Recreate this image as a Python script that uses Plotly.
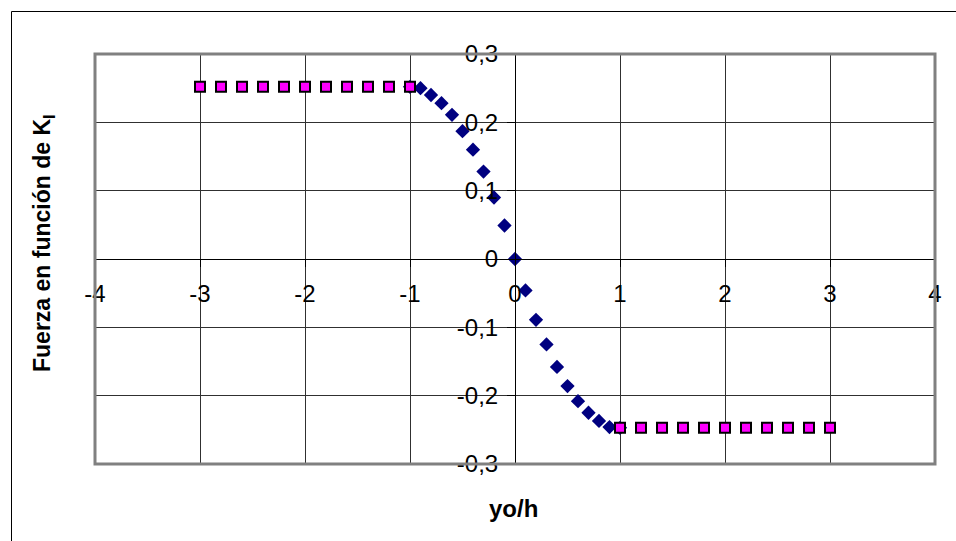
import plotly.graph_objects as go

# ---- data ----
diamond_x = [-1.0, -0.9, -0.8, -0.7, -0.6, -0.5, -0.4, -0.3, -0.2, -0.1, 0.0,
             0.1, 0.2, 0.3, 0.4, 0.5, 0.6, 0.7, 0.8, 0.9, 1.0]
diamond_y = [0.252, 0.250, 0.240, 0.228, 0.211, 0.187, 0.160, 0.128, 0.090, 0.049, 0.0,
             -0.046, -0.089, -0.125, -0.158, -0.186, -0.208, -0.225, -0.237, -0.246, -0.247]

square_x = [-3.0, -2.8, -2.6, -2.4, -2.2, -2.0, -1.8, -1.6, -1.4, -1.2, -1.0,
            1.0, 1.2, 1.4, 1.6, 1.8, 2.0, 2.2, 2.4, 2.6, 2.8, 3.0]
square_y = [0.252] * 11 + [-0.247] * 11

x_ticks = [-4, -3, -2, -1, 0, 1, 2, 3, 4]
x_ticktext = ["-4", "-3", "-2", "-1", "0", "1", "2", "3", "4"]
y_ticks = [-0.3, -0.2, -0.1, 0.0, 0.1, 0.2, 0.3]
y_ticktext = ["-0,3", "-0,2", "-0,1", "0", "0,1", "0,2", "0,3"]

x_title = "yo/h"
y_title = "Fuerza en función de K<sub>I</sub>"

FONT = "Liberation Sans, Arial, sans-serif"

fig = go.Figure()
fig.add_trace(go.Scatter(
    x=diamond_x, y=diamond_y, mode="markers",
    marker=dict(symbol="diamond", size=11, color="#000080", line=dict(width=0)),
    showlegend=False, hoverinfo="skip"))
fig.add_trace(go.Scatter(
    x=square_x, y=square_y, mode="markers",
    marker=dict(symbol="square", size=10, color="#FF00FF", line=dict(width=2, color="#000000")),
    showlegend=False, hoverinfo="skip"))

W, H = 956, 541
L, R, T, B = 95, 21, 54, 77
pw, ph = W - L - R, H - T - B

def px_x(p):
    return (p - L) / pw

def px_y(p):
    return 1 - (p - T) / ph

fig.update_layout(
    width=W, height=H,
    margin=dict(l=L, r=R, t=T, b=B, autoexpand=False),
    paper_bgcolor="white", plot_bgcolor="white",
    font=dict(family=FONT, size=24, color="black"),
    xaxis=dict(range=[-4, 4], tickvals=x_ticks, ticktext=x_ticktext,
               showgrid=True, gridcolor="#303030", gridwidth=1,
               zeroline=False, showline=True, linecolor="black", linewidth=1,
               ticks="outside", ticklen=7, tickcolor="black", tickwidth=1,
               anchor="free", position=0.5, ticklabelstandoff=6,
               tickfont=dict(size=24, family=FONT)),
    yaxis=dict(range=[-0.3, 0.3], tickvals=y_ticks, ticktext=y_ticktext,
               showgrid=True, gridcolor="#303030", gridwidth=1,
               zeroline=False, showline=True, linecolor="black", linewidth=1,
               ticks="outside", ticklen=8, tickcolor="black", tickwidth=1,
               anchor="free", position=0.5, ticklabelstandoff=4,
               tickfont=dict(size=24, family=FONT)),
    shapes=[
        dict(type="rect", xref="x domain", yref="y domain", x0=0, x1=1, y0=0, y1=1,
             line=dict(color="#808080", width=3), fillcolor="rgba(0,0,0,0)", layer="above"),
        dict(type="rect", xref="paper", yref="paper",
             x0=px_x(11.5), x1=px_x(1000), y0=px_y(600), y1=px_y(11.5),
             line=dict(color="black", width=1), fillcolor="rgba(0,0,0,0)", layer="below"),
    ],
    annotations=[
        dict(text="<b>" + x_title + "</b>", xref="paper", yref="paper",
             x=px_x(513), y=px_y(508), showarrow=False,
             font=dict(size=24, family=FONT), xanchor="center", yanchor="middle"),
        dict(text="<b>" + y_title + "</b>", xref="paper", yref="paper",
             x=px_x(43), y=px_y(243), showarrow=False, textangle=-90,
             font=dict(size=23, family=FONT), xanchor="center", yanchor="middle"),
    ],
)

fig.write_html("out.html", config={"displayModeBar": False},
               post_script="document.body.style.margin='0px';document.body.style.overflow='hidden';")
